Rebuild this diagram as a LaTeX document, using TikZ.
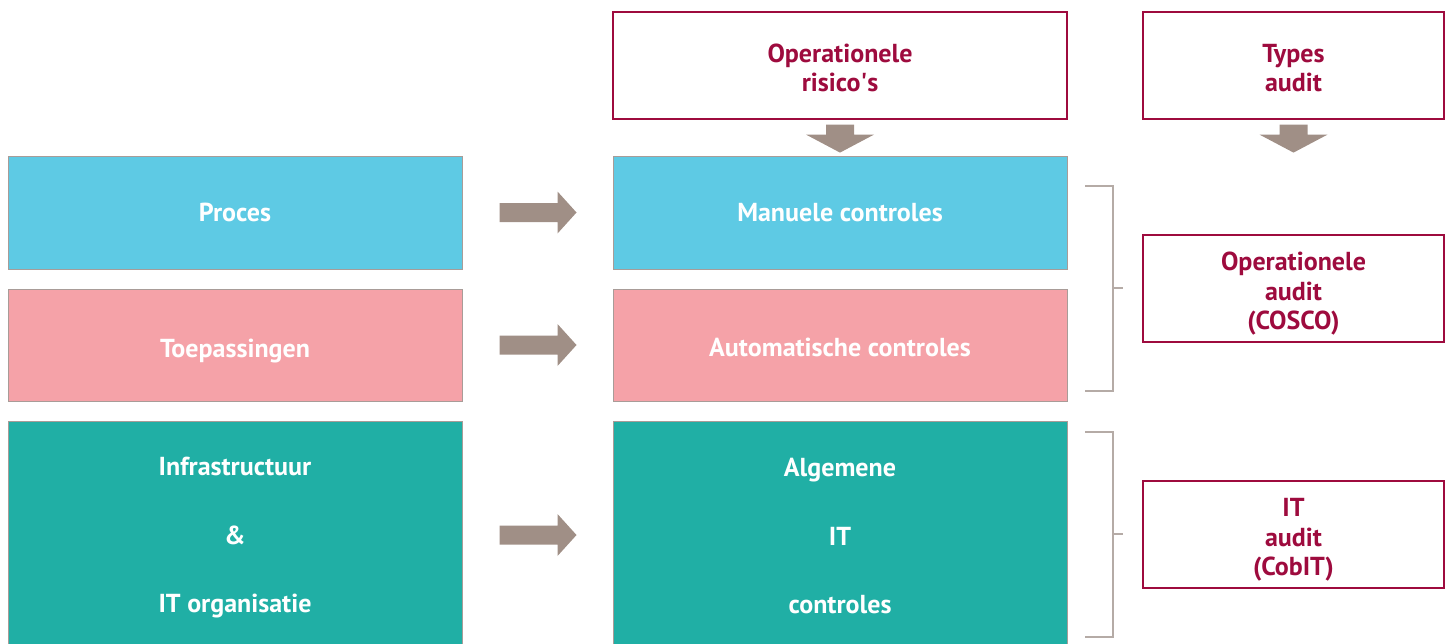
\documentclass[tikz,border=0pt]{standalone}
\usepackage{fontspec}
\setmainfont{PT Sans}
\usetikzlibrary{calc}
\definecolor{cblue}{HTML}{5ECAE4}
\definecolor{cpink}{HTML}{F5A2A8}
\definecolor{cteal}{HTML}{20AFA5}
\definecolor{cmaroon}{HTML}{9E0B3E}
\definecolor{carrow}{HTML}{A08F86}
\definecolor{cedge}{HTML}{A89C98}
\definecolor{cbrack}{HTML}{B5ABA6}
\begin{document}
\begin{tikzpicture}[x=1pt,y=-1pt,
  box/.style={draw=cedge,line width=1pt,text=white,font=\fontsize{26}{34}\selectfont\bfseries,align=center,inner sep=0pt},
  rbox/.style={draw=cmaroon,line width=1.2pt,fill=white,text=cmaroon,font=\fontsize{26}{29.5}\selectfont\bfseries,align=center,inner sep=0pt},
  blk/.style={fill=carrow,draw=none},
  brk/.style={draw=cbrack,line width=1.5pt}]
\useasboundingbox (0,0) rectangle (1450,643);
% top boxes
\node[rbox,minimum width=454,minimum height=107] (risk) at (840,65.5) {\rule{0pt}{23pt}Operationele\\risico\textquotesingle s};
\node[rbox,minimum width=301,minimum height=107] (types) at (1293.5,65.5) {\rule{0pt}{23pt}Types\\audit};
% left column
\node[box,fill=cblue,minimum width=454,minimum height=113] (proces) at (235,212.5) {Proces};
\node[box,fill=cpink,minimum width=454,minimum height=112,text height=31pt,text depth=6pt] (toep) at (235,345) {Toepassingen};
\node[box,fill=cteal,minimum width=454,minimum height=240,font=\fontsize{26}{68.5}\selectfont\bfseries] (infra) at (235,541) {Infrastructuur\\\&\\IT organisatie\rule[-12pt]{0pt}{12pt}};
% middle column
\node[box,fill=cblue,minimum width=454,minimum height=113] (man) at (840,212.5) {Manuele controles};
\node[box,fill=cpink,minimum width=454,minimum height=112,text height=23pt,text depth=0pt] (auto) at (840,345) {Automatische controles};
\node[box,fill=cteal,minimum width=454,minimum height=240,font=\fontsize{26}{68.5}\selectfont\bfseries] (alg) at (840,541) {Algemene\\IT\\controles\rule[-10pt]{0pt}{10pt}};
% right boxes
\node[rbox,minimum width=301,minimum height=107] (opaudit) at (1293.5,288.5) {\rule{0pt}{29pt}Operationele\\audit\\(COSCO)};
\node[rbox,minimum width=301,minimum height=107] (itaudit) at (1293.5,534.5) {\rule{0pt}{29pt}IT\\audit\\(CobIT)};
% down arrows
\foreach \nm in {risk,types}{
  \path (\nm.south) ++(0,5) coordinate (t\nm);
  \fill[blk] ($(t\nm)+(-14,0)$) -- ($(t\nm)+(14,0)$) -- ($(t\nm)+(14,10)$) -- ($(t\nm)+(34,10)$)
    -- ($(t\nm)+(0,28)$) -- ($(t\nm)+(-34,10)$) -- ($(t\nm)+(-14,10)$) -- cycle;
}
% right arrows
\foreach \aa in {proces,toep}{
  \path (\aa.east) ++(37,0) coordinate (s\aa);
  \fill[blk] ($(s\aa)+(0,-9.5)$) -- ($(s\aa)+(58,-9.5)$) -- ($(s\aa)+(58,-21)$) -- ($(s\aa)+(77,0)$)
    -- ($(s\aa)+(58,21)$) -- ($(s\aa)+(58,9.5)$) -- ($(s\aa)+(0,9.5)$) -- cycle;
}
\path (infra.east) ++(37,-6) coordinate (sinfra);
\fill[blk] ($(sinfra)+(0,-9.5)$) -- ($(sinfra)+(58,-9.5)$) -- ($(sinfra)+(58,-21)$) -- ($(sinfra)+(77,0)$)
    -- ($(sinfra)+(58,21)$) -- ($(sinfra)+(58,9.5)$) -- ($(sinfra)+(0,9.5)$) -- cycle;
% brackets
\coordinate (b1t) at (1085,186);
\coordinate (b1b) at (1085,391);
\coordinate (b1m) at (1123,288);
\draw[brk] (b1t) -- (1113,186) -- (1113,391) -- (b1b);
\draw[brk] (1113,288) -- (b1m);
\coordinate (b2t) at (1085,432);
\coordinate (b2b) at (1085,637);
\coordinate (b2m) at (1123,534);
\draw[brk] (b2t) -- (1113,432) -- (1113,637) -- (b2b);
\draw[brk] (1113,534) -- (b2m);
\end{tikzpicture}
\end{document}
